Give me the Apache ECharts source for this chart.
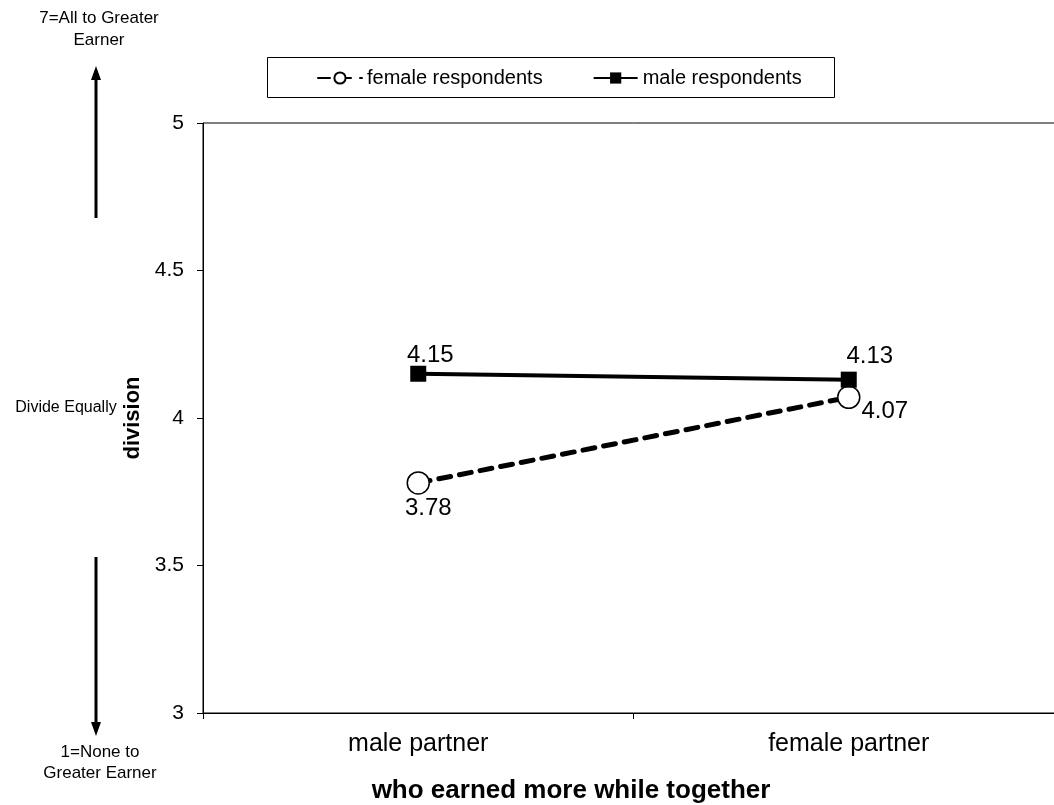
<!DOCTYPE html>
<html>
<head>
<meta charset="utf-8">
<script src="https://cdn.jsdelivr.net/npm/echarts@6/dist/echarts.min.js"></script>
<style>
  html, body { margin: 0; padding: 0; background: #fff; overflow: hidden; }
  #box { width: 1064px; height: 805px; }
</style>
</head>
<body>
<div id="box"></div>
<script>
// data
var categories = ["male partner", "female partner"];
var femaleValues = [3.78, 4.07];
var maleValues = [4.15, 4.13];
var yTicks = { min: 3, max: 5, interval: 0.5 };

// label placement for each point (style only)
var femaleLabelPos = [["bottom", [10, -3]], ["right", [-4, 14]]];
var maleLabelPos = [["top", [12, 7]], ["top", [21, 2]]];

function points(values, pos) {
  return values.map(function (v, i) {
    return { value: v, label: { position: pos[i][0], offset: pos[i][1] } };
  });
}

var font = "Liberation Sans, Arial, sans-serif";
var myChart = echarts.init(document.getElementById("box"));

var option = {
  backgroundColor: "#fff",
  animation: false,
  textStyle: { fontFamily: font, color: "#000" },
  grid: { left: 203, top: 123, right: 0, bottom: 92, show: true, borderColor: "#000", borderWidth: 1 },
  legend: {
    left: 312,
    top: 63,
    itemWidth: 44,
    itemHeight: 14,
    itemGap: 50,
    textStyle: { fontSize: 20, color: "#000", fontFamily: font },
    data: ["female respondents", "male respondents"]
  },
  xAxis: {
    type: "category",
    data: categories,
    boundaryGap: true,
    axisLine: { lineStyle: { color: "#000", width: 1 } },
    axisTick: { show: true, length: 6, lineStyle: { color: "#000" } },
    axisLabel: { fontSize: 25, color: "#000", margin: 19, fontFamily: font }
  },
  yAxis: {
    type: "value",
    min: yTicks.min,
    max: yTicks.max,
    interval: yTicks.interval,
    name: "division",
    nameLocation: "middle",
    nameRotate: 90,
    nameGap: 37,
    nameTextStyle: { fontSize: 22, fontWeight: "bold", color: "#000", fontFamily: font },
    axisLine: { show: true, lineStyle: { color: "#000", width: 1 } },
    axisTick: { show: true, length: 6, lineStyle: { color: "#000" } },
    axisLabel: { fontSize: 21, color: "#000", margin: 19, fontFamily: font },
    splitLine: { show: false }
  },
  series: [
    {
      name: "female respondents",
      type: "line",
      data: points(femaleValues, femaleLabelPos),
      symbol: "circle",
      symbolSize: 22,
      lineStyle: { color: "#000", width: 5, type: [12, 9], cap: "round" },
      itemStyle: { color: "#fff", borderColor: "#000", borderWidth: 1.5 },
      label: { show: true, fontSize: 24, color: "#000", fontFamily: font },
      z: 2
    },
    {
      name: "male respondents",
      type: "line",
      data: points(maleValues, maleLabelPos),
      symbol: "rect",
      symbolSize: 16,
      lineStyle: { color: "#000", width: 4 },
      itemStyle: { color: "#000" },
      label: { show: true, fontSize: 24, color: "#000", fontFamily: font },
      z: 3
    }
  ],
  graphic: [
    { type: "rect", shape: { x: 267.5, y: 57.5, width: 567, height: 40 }, style: { fill: "none", stroke: "#000", lineWidth: 1 }, z: -1 },
    { type: "text", style: { text: "7=All to Greater\nEarner", x: 99, y: 7, align: "center", lineHeight: 22, fill: "#000", font: "17px " + font } },
    { type: "line", shape: { x1: 96, y1: 218, x2: 96, y2: 80 }, style: { stroke: "#000", lineWidth: 3 } },
    { type: "polygon", shape: { points: [[96, 66], [91, 80], [101, 80]] }, style: { fill: "#000" } },
    { type: "text", style: { text: "Divide Equally", x: 66, y: 408, align: "center", verticalAlign: "middle", fill: "#000", font: "16px " + font } },
    { type: "line", shape: { x1: 96, y1: 557, x2: 96, y2: 722 }, style: { stroke: "#000", lineWidth: 3 } },
    { type: "polygon", shape: { points: [[96, 736], [91, 722], [101, 722]] }, style: { fill: "#000" } },
    { type: "text", style: { text: "1=None to\nGreater Earner", x: 100, y: 742, align: "center", lineHeight: 21, fill: "#000", font: "17px " + font } },
    { type: "text", style: { text: "who earned more while together", x: 571, y: 791, align: "center", verticalAlign: "middle", fill: "#000", font: "bold 26px " + font } }
  ]
};

myChart.setOption(option);
</script>
</body>
</html>
